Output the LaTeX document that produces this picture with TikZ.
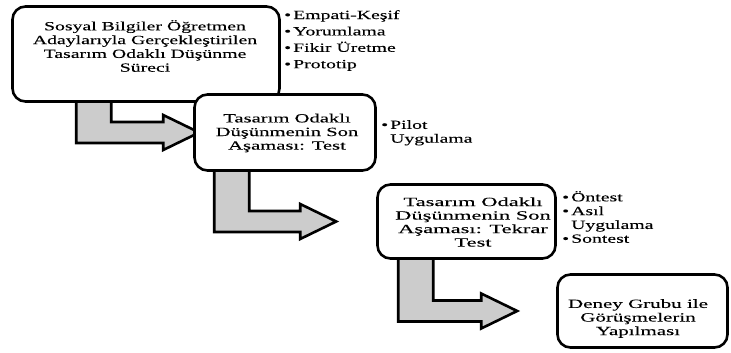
\documentclass[tikz,border=0pt]{standalone}
\usepackage{fontspec}
\setmainfont{Liberation Serif}[FakeStretch=1.58, FakeBold=0.05]
\newfontfamily\genisB{Liberation Serif}[FakeStretch=1.65, FakeBold=0.05]
\newfontfamily\genisC{Liberation Serif}[FakeStretch=1.8, FakeBold=0.05]
\newfontfamily\genisD{Liberation Serif}[FakeStretch=1.68, FakeBold=0.05]
\usetikzlibrary{calc, backgrounds}

% kirik blok ok: #1 kaynak kutu, #2 hedef kutu, #3 govde kaymasi, #4 bosluk
\newcommand{\kirikok}[4]{%
  \draw[blokok] let \p1=(#1.south west), \p2=(#2.west) in
    (\x1+#3pt,\y1+6pt) -- ++(35pt,0) |- (\x2-#4pt-36pt,\y2+10.5pt)
    -- ++(0,7pt) -- (\x2-#4pt,\y2) -- ++(-36pt,-17.5pt) -- ++(0,7pt)
    -| (\x1+#3pt,\y1+6pt) -- cycle;}

\begin{document}
\begin{tikzpicture}[x=1pt, y=-1pt, font=\fontsize{12.5}{13.8}\selectfont,
    kutu/.style={draw, line width=2.6pt, rounded corners=13pt, fill=white},
    yazi/.style={align=center, inner sep=0pt},
    liste/.style={align=left, anchor=north west, inner sep=0pt},
    blokok/.style={draw, line width=2.6pt, fill=gray!40, line join=miter}]
  \useasboundingbox (0,0) rectangle (731,353);

  % kutular
  \node[kutu, minimum width=267, minimum height=95] (b1) at (146,54) {};
  \node[kutu, minimum width=181, minimum height=76] (b2) at (285,132.5) {};
  \node[kutu, minimum width=178, minimum height=74] (b3) at (466.5,221.5) {};
  \node[kutu, minimum width=170, minimum height=73] (b4) at (642.5,311) {};

  \node[yazi] (b1y) at (145,46) {Sosyal Bilgiler\ Öğretmen\\Adaylarıyla Gerçekleştirilen\\Tasarım Odaklı Düşünme\\Süreci};
  \node[yazi, font=\genisB\fontsize{12.5}{13.6}\selectfont] (b2y) at (287,133)
    {Tasarım Odaklı\\Düşünmenin\ Son\\Aşaması: Test};
  \node[yazi, font=\genisC\fontsize{12.5}{13.5}\selectfont] (b3y) at (473,222)
    {Tasarım Odaklı\\Düşünmenin\ Son\\Aşaması: Tekrar\\Test};
  \node[yazi, font=\genisD\fontsize{12.5}{13.6}\selectfont] (b4y) at (638,318.5)
    {Deney\ Grubu ile\\Görüşmelerin\\Yapılması};

  % maddeler
  \node[liste, font=\fontsize{12.5}{16.4}\selectfont] (m1) at (284,10)
    {\textbullet\,Empati-Keşif\\\textbullet\,Yorumlama\\\textbullet\,Fikir Üretme\\\textbullet\,Prototip};
  \node[liste] (m2) at (381,120)
    {\textbullet\,Pilot\\\phantom{\textbullet\,}Uygulama};
  \node[liste] (m3) at (562,191)
    {\textbullet\,Öntest\\\textbullet\,Asıl\\\phantom{\textbullet\,}Uygulama\\\textbullet\,Sontest};

  % oklar
  \begin{scope}[on background layer]
    \kirikok{b1}{b2}{65}{-6}
    \kirikok{b2}{b3}{21}{40}
    \kirikok{b3}{b4}{22}{39}
  \end{scope}
\end{tikzpicture}
\end{document}
